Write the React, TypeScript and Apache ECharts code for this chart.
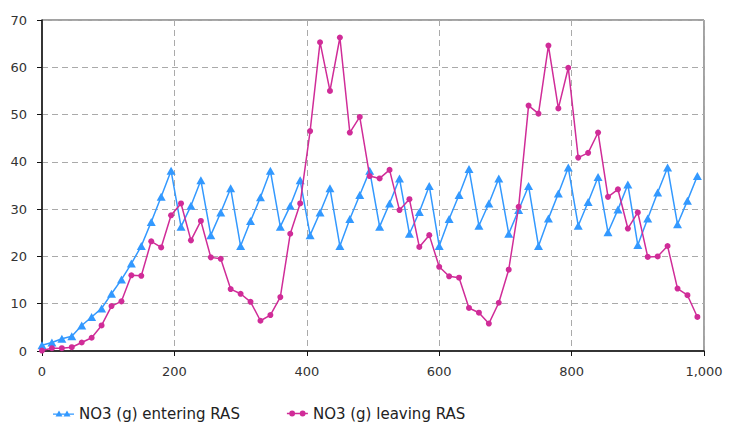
import React, { useEffect, useRef } from "react";
import * as echarts from "echarts";

const xValues = [
  0, 15, 30, 45, 60, 75, 90, 105, 120, 135, 150, 165, 180, 195, 210, 225, 240, 255, 270, 285,
  300, 315, 330, 345, 360, 375, 390, 405, 420, 435, 450, 465, 480, 495, 510, 525, 540, 555, 570, 585,
  600, 615, 630, 645, 660, 675, 690, 705, 720, 735, 750, 765, 780, 795, 810, 825, 840, 855, 870, 885,
  900, 915, 930, 945, 960, 975, 990,
];

const entering = [
  1.2, 1.8, 2.6, 3.1, 5.4, 7.2, 9.0, 12.1, 15.1, 18.5, 22.2, 27.3, 32.6, 38.1, 26.3, 30.7, 36.1, 24.5, 29.3, 34.4,
  22.2, 27.5, 32.5, 38.1, 26.3, 30.7, 36.1, 24.5, 29.3, 34.4, 22.2, 27.9, 33.0, 38.1, 26.3, 31.2, 36.5, 24.8, 29.4, 34.9,
  22.2, 27.9, 33.0, 38.5, 26.5, 31.2, 36.5, 24.8, 29.8, 34.9, 22.2, 28.0, 33.3, 38.8, 26.5, 31.5, 36.8, 25.1, 29.9, 35.2,
  22.4, 28.0, 33.5, 38.8, 26.8, 31.8, 37.0,
];

const leaving = [
  0.1, 0.6, 0.6, 0.8, 1.8, 2.8, 5.4, 9.5, 10.5, 16.0, 15.9, 23.2, 21.9, 28.7, 31.2, 23.4, 27.5, 19.8, 19.5, 13.1,
  12.1, 10.4, 6.4, 7.6, 11.4, 24.8, 31.2, 46.5, 65.3, 55.0, 66.3, 46.2, 49.5, 37.0, 36.5, 38.3, 29.8, 32.1, 22.0, 24.5,
  17.8, 15.8, 15.5, 9.1, 8.1, 5.8, 10.2, 17.2, 30.5, 51.9, 50.2, 64.6, 51.3, 59.9, 40.9, 41.9, 46.2, 32.6, 34.2, 25.9,
  29.3, 19.9, 20.0, 22.2, 13.2, 11.8, 7.2,
];

const seriesNames = ["NO3 (g) entering RAS", "NO3 (g) leaving RAS"];
const BLUE = "#3399ff";
const PINK = "#d02c98";
const FONT = "DejaVu Sans";

const triIcon =
  "path://M0,4 L21,4 L21,5.2 L0,5.2 Z M2.5,7 L6,1 L9.5,7 Z M10.5,7 L14,1 L17.5,7 Z";
const dotIcon =
  "path://M0,3.4 L20,3.4 L20,4.6 L0,4.6 Z M2.2,4 A2.8,2.8 0 1 1 7.8,4 A2.8,2.8 0 1 1 2.2,4 Z M12.2,4 A2.8,2.8 0 1 1 17.8,4 A2.8,2.8 0 1 1 12.2,4 Z";

export default function App() {
  const ref = useRef<HTMLDivElement>(null);
  useEffect(() => {
    if (!ref.current) return;
    const chart = echarts.init(ref.current, null, { renderer: "svg" });
    const gridLine = { show: true, lineStyle: { color: "#aaaaaa", type: [6, 4] as any, width: 1 } };
    chart.setOption({
      animation: false,
      backgroundColor: "#ffffff",
      textStyle: { fontFamily: FONT },
      grid: {
        left: 42,
        right: 25,
        top: 20,
        bottom: 73,
        show: true,
        borderColor: "#444444",
        borderWidth: 1,
      },
      legend: {
        left: 48,
        top: 401,
        itemGap: 47,
        itemWidth: 21,
        itemHeight: 8,
        textStyle: { fontFamily: FONT, fontSize: 15, color: "#222" },
        data: [
          { name: seriesNames[0], icon: triIcon, itemStyle: { color: BLUE, borderWidth: 0 } },
          { name: seriesNames[1], icon: dotIcon, itemStyle: { color: PINK, borderWidth: 0 } },
        ],
      },
      xAxis: {
        type: "value",
        min: 0,
        max: 1000,
        interval: 200,
        axisLine: { show: true, lineStyle: { color: "#111", width: 1.5 } },
        axisTick: { show: true, length: 5, lineStyle: { color: "#111" } },
        axisLabel: {
          margin: 14,
          color: "#333",
          fontFamily: FONT,
          fontSize: 13,
          formatter: (v: number) => v.toLocaleString("en-US"),
        },
        splitLine: gridLine,
      },
      yAxis: {
        type: "value",
        min: 0,
        max: 70,
        interval: 10,
        axisLine: { show: true, lineStyle: { color: "#111", width: 1.5 } },
        axisTick: { show: true, length: 5, lineStyle: { color: "#111" } },
        axisLabel: { margin: 15, color: "#333", fontFamily: FONT, fontSize: 13 },
        splitLine: gridLine,
      },
      series: [
        {
          name: seriesNames[0],
          type: "line",
          data: xValues.map((x, i) => [x, entering[i]]),
          symbol: "triangle",
          symbolSize: [9, 8],
          showAllSymbol: true,
          lineStyle: { color: BLUE, width: 1.5 },
          itemStyle: { color: BLUE, borderWidth: 0 },
          z: 2,
        },
        {
          name: seriesNames[1],
          type: "line",
          data: xValues.map((x, i) => [x, leaving[i]]),
          symbol: "circle",
          symbolSize: 6,
          showAllSymbol: true,
          lineStyle: { color: PINK, width: 1.5 },
          itemStyle: { color: PINK, borderWidth: 0 },
          z: 3,
        },
      ],
    });
    return () => chart.dispose();
  }, []);
  return (
    <div
      ref={ref}
      style={{ position: "absolute", left: 0, top: 0, width: 729, height: 424 }}
    />
  );
}
